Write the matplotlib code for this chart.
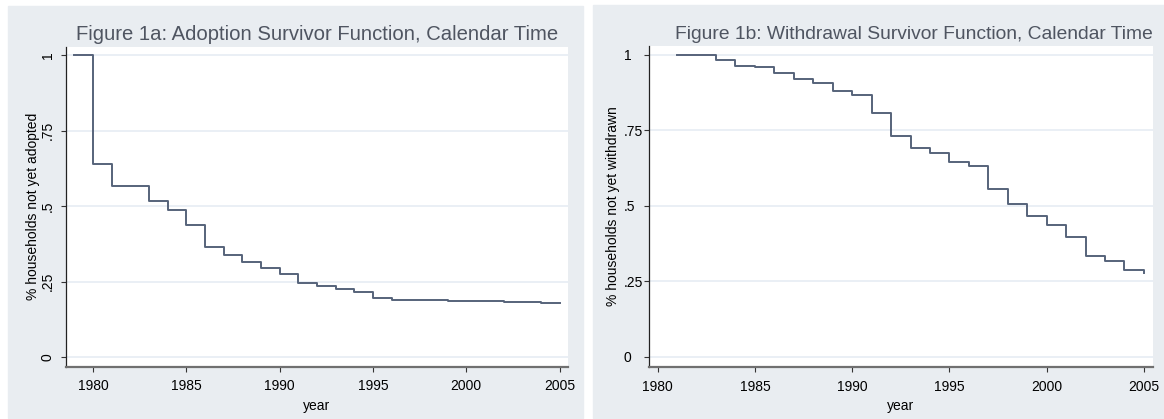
"""Survivor functions for adoption and withdrawal, calendar time"""

import matplotlib

matplotlib.use("Agg")
import matplotlib.pyplot as plt  # type: ignore
from matplotlib.patches import Rectangle

# Figure 1a: adoption survivor function (value holds from year until next year)
adopt_years = list(range(1979, 2006))
adopt_surv = [1.0, 0.641, 0.568, 0.566, 0.518, 0.487, 0.439, 0.364, 0.337,
              0.315, 0.296, 0.276, 0.244, 0.236, 0.224, 0.215, 0.197, 0.190,
              0.190, 0.190, 0.187, 0.187, 0.187, 0.183, 0.183, 0.180, 0.180]

# Figure 1b: withdrawal survivor function
withdraw_years = list(range(1981, 2006))
withdraw_surv = [1.0, 1.0, 0.984, 0.964, 0.960, 0.940, 0.921, 0.907, 0.881,
                 0.865, 0.808, 0.731, 0.692, 0.676, 0.646, 0.633, 0.556,
                 0.506, 0.467, 0.435, 0.397, 0.335, 0.318, 0.288, 0.276]

year_ticks = [1980, 1985, 1990, 1995, 2000, 2005]
surv_ticks = [0, 0.25, 0.5, 0.75, 1]
surv_labels = ["0", ".25", ".5", ".75", "1"]

BG = "#e9edf1"
LINE = "#56637a"
GRID = "#e8eef4"
TITLE = "#4f5561"

plt.rcParams["font.family"] = ["Liberation Sans", "DejaVu Sans"]

W, H = 1164, 419
fig = plt.figure(figsize=(W / 100, H / 100), dpi=100)
fig.patch.set_facecolor("white")

# grey panel behind each graph
fig.patches.append(Rectangle((8 / W, 1 - 418 / H), 575 / W, 412 / H,
                             transform=fig.transFigure, color=BG, zorder=-5))
fig.patches.append(Rectangle((593 / W, 1 - 418 / H), 571 / W, 413 / H,
                             transform=fig.transFigure, color=BG, zorder=-5))


def make_axes(x0, x1, y_top, y_bot):
    return fig.add_axes([x0 / W, 1 - y_bot / H, (x1 - x0) / W, (y_bot - y_top) / H])


def style(ax, xlim, ylim, ylabel, title, title_x, title_size, ylab_x):
    ax.set_facecolor("white")
    ax.set_xlim(*xlim)
    ax.set_ylim(*ylim)
    ax.set_xticks(year_ticks)
    ax.set_yticks(surv_ticks)
    ax.set_yticklabels(surv_labels)
    for y in surv_ticks:
        ax.axhline(y, color=GRID, lw=1.3, zorder=1)
    for side in ["top", "right"]:
        ax.spines[side].set_visible(False)
    ax.spines["left"].set_color("#222222")
    ax.spines["left"].set_linewidth(0.9)
    ax.spines["bottom"].set_color("#707070")
    ax.spines["bottom"].set_linewidth(1.6)
    ax.tick_params(length=3.6, width=0.8, color="#333333", labelsize=10, pad=5.4)
    ax.set_xlabel("year", fontsize=10)
    ax.xaxis.set_label_coords(0.5, -0.10)
    ax.set_ylabel(ylabel, fontsize=10)
    ax.yaxis.label.set_va("center")
    ax.yaxis.set_label_coords(ylab_x, 0.5)
    ax.text(title_x, 1.021, title, transform=ax.transAxes, ha="center",
            va="baseline", fontsize=title_size, color=TITLE)


ax1 = make_axes(65.7, 568.3, 46.7, 366.7)
ax1.step(adopt_years, adopt_surv, where="post", color=LINE, lw=1.4, zorder=3)
style(ax1, (1978.53, 2005.47), (-0.032, 1.0285), "% households not yet adopted",
      "Figure 1a: Adoption Survivor Function, Calendar Time", 0.5, 14.6, -0.066)
ax1.tick_params(axis="y", pad=4.4)
for lab in ax1.get_yticklabels():
    lab.set_rotation(90)
    lab.set_va("center")

ax2 = make_axes(648.7, 1152.7, 46.0, 367.0)
ax2.step(withdraw_years, withdraw_surv, where="post", color=LINE, lw=1.4, zorder=3)
style(ax2, (1979.54, 2005.45), (-0.034, 1.0288), "% households not yet withdrawn",
      "Figure 1b: Withdrawal Survivor Function, Calendar Time", 0.527, 13.85, -0.0708)
# the y labels on this graph are left-aligned, so .75 and .25 run into the axis
ax2.tick_params(axis="y", pad=14.2)
for lab in ax2.get_yticklabels():
    lab.set_ha("left")

fig.savefig("out.png", dpi=100, facecolor="white")
